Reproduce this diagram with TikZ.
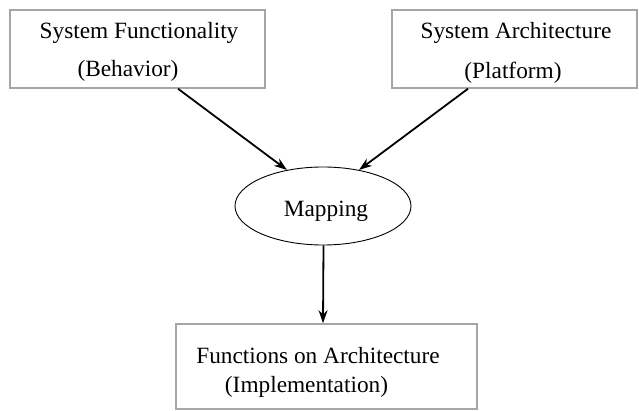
\documentclass[tikz,border=0pt]{standalone}
\usepackage{fontspec}
\setmainfont{Liberation Serif}
\usetikzlibrary{arrows.meta,shapes.geometric}

\begin{document}
\begin{tikzpicture}[x=1pt,y=-1pt,
  box/.style={draw=gray!70,line width=1.5pt,inner sep=0pt},
  txt/.style={anchor=base,inner sep=0pt,font=\fontsize{23.3}{28}\selectfont},
  arr/.style={-{Stealth[length=13pt,width=9pt]},line width=1.8pt}]
\useasboundingbox (0,0) rectangle (639,411);
% Boxes
\node[box,minimum width=255pt,minimum height=78pt] (func) at (137.5,49) {};
\node[box,minimum width=245pt,minimum height=78pt] (arch) at (514.5,49) {};
\node[box,minimum width=301pt,minimum height=85pt] (impl) at (326.5,366.5) {};
% Mapping ellipse
\node[draw,ellipse,line width=0.9pt,minimum width=176pt,minimum height=78pt,inner sep=0pt] (map) at (323,206) {};
% Texts
\node[txt] (functitle) at (139,39) {System Functionality};
\node[txt] (behavior) at (128,77) {(Behavior)};
\node[txt] (archtitle) at (516,39) {System Architecture};
\node[txt] (platform) at (513,79) {(Platform)};
\node[txt] (maptitle) at (326,217) {Mapping};
\node[txt] (impltitle) at (318,363) {Functions on Architecture};
\node[txt] (implement) at (306.5,392) {(Implementation)};
% Arrows
\draw[arr] ([xshift=40.5pt]func.south) -- (map.135);
\draw[arr] ([xshift=-46.5pt]arch.south) -- (map.45);
\draw[arr] ([xshift=0.5pt]map.south) -- ([xshift=-3.5pt]impl.north);
\end{tikzpicture}
\end{document}
